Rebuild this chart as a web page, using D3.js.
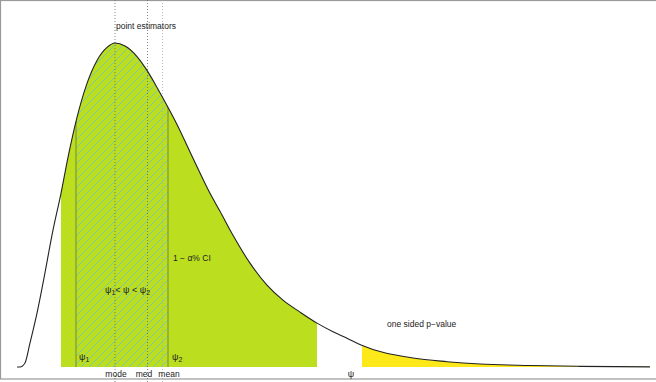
<!DOCTYPE html>
<html>
<head>
<meta charset="utf-8">
<script src="https://cdn.jsdelivr.net/npm/d3@7"></script>
<style>
  body { margin: 0; background: #fff; }
  text { font-family: "Liberation Sans", Arial, sans-serif; fill: #222; }
</style>
</head>
<body>
<div id="chart"></div>
<script>
// density curve (psi, density)
const psiVals = [0, 0.06, 0.16, 0.26, 0.4, 0.52, 0.72, 0.88, 1.02, 1.2, 1.4, 1.6, 1.8, 1.96,
                 2.16, 2.4, 2.6, 2.8, 3.0, 3.2, 3.52, 3.86, 4.06, 4.32, 4.66, 5.0, 5.32, 5.66,
                 6.0, 6.32, 6.6, 6.88, 7.92, 8.6, 9.26, 10.26, 11.26, 12.66]
const densVals = [0, 0, 0.0031, 0.0185, 0.0415, 0.0646, 0.1054, 0.1338, 0.1615, 0.1923, 0.2185,
                  0.2362, 0.2462, 0.2496, 0.2473, 0.2392, 0.2285, 0.2154, 0.2015, 0.1869, 0.1608,
                  0.1338, 0.12, 0.1015, 0.08, 0.0631, 0.0515, 0.0423, 0.0338, 0.0272, 0.0222,
                  0.0169, 0.0069, 0.0041, 0.0023, 0.0012, 0.0005, 0.0001]

// markers on the psi axis
const shownRange = [0.88, 6.0]      // green area
const ciRange = [1.18, 3.02]        // psi1 .. psi2
const estNames = ['mode', 'med', 'mean']
const estVals = [1.96, 2.61, 2.91]
const estLabelPos = [1.98, 2.54, 3.04]
const psiObs = 6.68
const pStart = 6.9

const width = 656, height = 382

const x = d3.scaleLinear().domain([0, 13]).range([17, 667])
const y = d3.scaleLinear().domain([0, 0.25]).range([367, 42.5])

const pts = psiVals.map((v, i) => [v, densVals[i]])

const svg = d3.select('#chart').append('svg')
    .attr('width', width)
    .attr('height', height)

const defs = svg.append('defs')

const area = d3.area()
    .x(d => x(d[0]))
    .y0(y(0))
    .y1(d => y(d[1]))
    .curve(d3.curveMonotoneX)

const line = d3.line()
    .x(d => x(d[0]))
    .y(d => y(d[1]))
    .curve(d3.curveMonotoneX)

defs.append('clipPath').attr('id', 'under')
    .append('path')
    .attr('d', area(pts))

const hatch = defs.append('pattern')
    .attr('id', 'hatch')
    .attr('patternUnits', 'userSpaceOnUse')
    .attr('width', 8)
    .attr('height', 8)
hatch.append('path')
    .attr('d', 'M-2,2 L2,-2 M0,8 L8,0 M6,10 L10,6')
    .attr('stroke', '#7cc9b2')
    .attr('stroke-width', 1)

// frame
svg.append('rect')
    .attr('x', 0.5).attr('y', 0.5)
    .attr('width', width + 10).attr('height', 378.5)
    .attr('fill', 'none')
    .attr('stroke', '#999')
    .attr('stroke-width', 1.2)

const g = svg.append('g').attr('clip-path', 'url(#under)')

// green area
g.append('rect')
    .attr('x', x(shownRange[0]))
    .attr('y', 0)
    .attr('width', x(shownRange[1]) - x(shownRange[0]))
    .attr('height', y(0))
    .attr('fill', '#bbdf1f')

// one sided p-value area
g.append('rect')
    .attr('x', x(pStart))
    .attr('y', 0)
    .attr('width', width - x(pStart))
    .attr('height', y(0))
    .attr('fill', '#fde81a')

// hatched CI
g.append('rect')
    .attr('x', x(ciRange[0]))
    .attr('y', 0)
    .attr('width', x(ciRange[1]) - x(ciRange[0]))
    .attr('height', y(0))
    .attr('fill', 'url(#hatch)')

g.selectAll('.ci-line')
    .data(ciRange)
    .join('line')
    .classed('ci-line', true)
    .attr('x1', d => x(d)).attr('x2', d => x(d))
    .attr('y1', 0).attr('y2', y(0))
    .attr('stroke', '#76883a')
    .attr('stroke-width', 1)

// estimator lines
svg.selectAll('.est-line')
    .data(estVals)
    .join('line')
    .classed('est-line', true)
    .attr('x1', d => x(d)).attr('x2', d => x(d))
    .attr('y1', 0).attr('y2', height)
    .attr('stroke', (d, i) => i == 2 ? '#aaa' : '#666')
    .attr('stroke-width', 0.8)
    .attr('stroke-dasharray', '1,2')

// density curve
svg.append('path')
    .attr('d', line(pts))
    .attr('fill', 'none')
    .attr('stroke', '#222')
    .attr('stroke-width', 1.1)

// labels
svg.append('text')
    .attr('x', x(estVals[0]) + 1).attr('y', 29)
    .attr('font-size', 8.5)
    .text('point estimators')

svg.selectAll('.est-label')
    .data(estNames)
    .join('text')
    .classed('est-label', true)
    .attr('x', (d, i) => x(estLabelPos[i]))
    .attr('y', 377)
    .attr('text-anchor', 'middle')
    .attr('font-size', 8.5)
    .text(d => d)

function psiText(sel, sub) {
    sel.append('tspan').text('ψ')
    sel.append('tspan').attr('font-size', 7).attr('dy', 2).text(sub)
}

let t1 = svg.append('text').attr('x', x(ciRange[0]) + 3).attr('y', 360).attr('font-size', 9)
psiText(t1, '1')
let t2 = svg.append('text').attr('x', x(ciRange[1]) + 4).attr('y', 360).attr('font-size', 9)
psiText(t2, '2')

let tm = svg.append('text').attr('x', 105).attr('y', 293).attr('font-size', 9)
tm.append('tspan').text('ψ')
tm.append('tspan').attr('font-size', 7).attr('dy', 2).text('1')
tm.append('tspan').attr('dy', -2).text('< ψ < ψ')
tm.append('tspan').attr('font-size', 7).attr('dy', 2).text('2')

svg.append('text')
    .attr('x', x(ciRange[1]) + 5).attr('y', 261)
    .attr('font-size', 8.5)
    .text('1 − α% CI')

svg.append('text')
    .attr('x', 387).attr('y', 327)
    .attr('font-size', 8.5)
    .text('one sided p−value')

let tp = svg.append('text')
    .attr('x', x(psiObs)).attr('y', 377)
    .attr('text-anchor', 'middle')
    .attr('font-size', 9)
tp.append('tspan').text('ψ')
</script>
</body>
</html>
